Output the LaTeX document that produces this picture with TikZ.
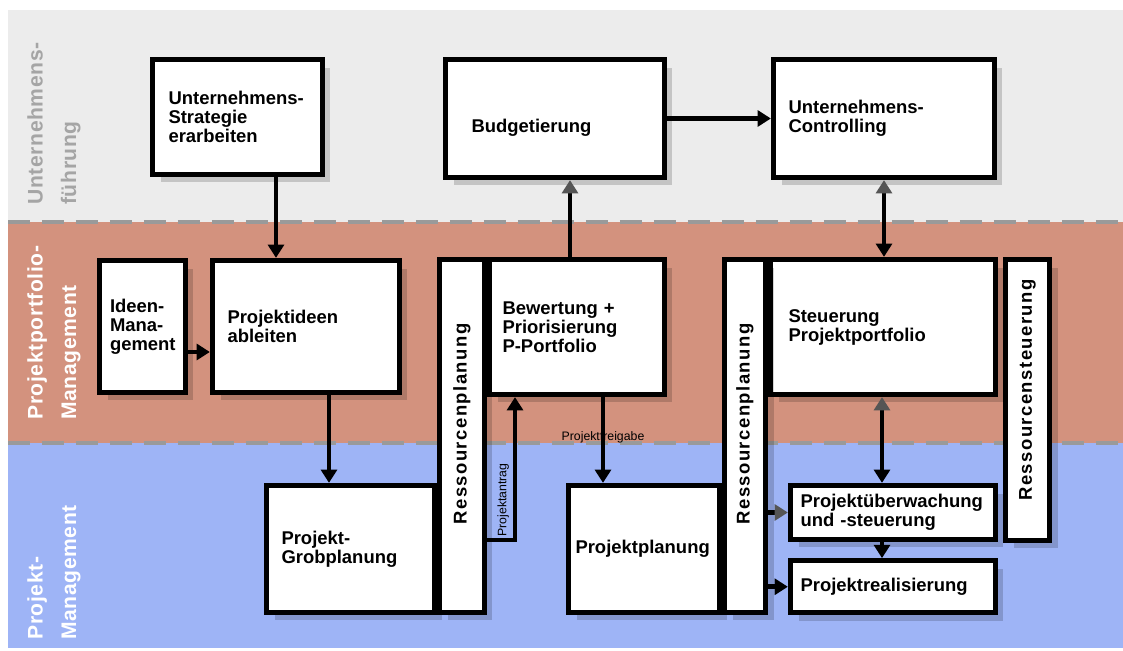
\documentclass[tikz,border=0pt]{standalone}
\usepackage{fontspec}
\setmainfont{Liberation Sans}
\usetikzlibrary{arrows.meta,shadows,positioning,calc}

\definecolor{bandgrey}{HTML}{ECECEC}
\definecolor{bandsalmon}{HTML}{D3927E}
\definecolor{bandblue}{HTML}{9EB4F6}
\definecolor{dashgrey}{HTML}{9A9A9A}
\definecolor{lanegrey}{HTML}{A5A5A5}
\definecolor{tipgrey}{HTML}{555555}

\begin{document}
\begin{tikzpicture}[
    x=0.02cm, y=-0.02cm,
    box/.style = {draw, fill=white, line width=3pt, align=left, inner sep=0pt,
                  font=\fontsize{10.5}{10.8}\selectfont\bfseries,
                  drop shadow={shadow xshift=0.16cm, shadow yshift=-0.16cm, fill=black, opacity=0.17}},
    vtext/.style = {rotate=90, inner sep=0pt, font=\fontsize{10.5}{10.5}\selectfont\bfseries\addfontfeatures{LetterSpace=8}},
    lane/.style = {rotate=90, anchor=north west, align=left, inner sep=0pt,
                   font=\fontsize{12}{19}\selectfont\bfseries\addfontfeatures{LetterSpace=3}, text=white},
    lanesep/.style = {dashgrey, line width=2.3pt, dash pattern=on 0.44cm off 0.24cm},
    smalltxt/.style = {font=\fontsize{7}{8}\selectfont, inner sep=2pt},
    arr/.style = {line width=2.8pt, -{Triangle[length=7.5pt,width=9pt]}},
    arrgrey/.style = {line width=2.8pt, -{Triangle[length=7.5pt,width=9pt,color=tipgrey]}},
    arrboth/.style = {line width=2.8pt, {Triangle[length=7.5pt,width=9pt,color=tipgrey]}-{Triangle[length=7.5pt,width=9pt]}}
    ]
    \useasboundingbox (0,0) rectangle (1123,651);

    % lanes
    \fill[bandgrey] (8,10) rectangle (1123,222);
    \fill[bandsalmon] (8,222) rectangle (1123,443);
    \fill[bandblue] (8,443) rectangle (1123,648);
    \draw[lanesep] (8,222) -- (1123,222);
    \draw[lanesep] (8,443) -- (1123,443);

    \node[lane, text=lanegrey] (lanefuehrung) at (27,205) {Unternehmens-\\führung};
    \node[lane] (laneportfolio) at (27,420) {Projektportfolio-\\Management};
    \node[lane] (laneprojekt) at (27,640) {Projekt-\\Management};

    % boxes
    \node[box, minimum width=3.4cm, minimum height=2.3cm, text width=2.76cm] (strategie) at (237.5,117) {Unternehmens-\\Strategie\\erarbeiten};
    \node[box, minimum width=4.38cm, minimum height=2.36cm, text width=3.34cm] (budget) at (555,118.5) {\raisebox{-0.18cm}[\height][\depth]{Budgetierung}};
    \node[box, minimum width=4.42cm, minimum height=2.36cm, text width=3.82cm] (controlling) at (884,118.5) {Unternehmens-\\Controlling};
    \node[box, minimum width=1.72cm, minimum height=2.64cm, text width=1.3cm] (ideen) at (142.5,326.5) {Ideen-\\Mana-\\gement};
    \node[box, minimum width=3.74cm, minimum height=2.64cm, text width=3.14cm] (ideenableiten) at (306,326.5) {Projektideen\\ableiten};
    \node[box, minimum width=3.5cm, minimum height=2.7cm, text width=2.98cm] (bewertung) at (577,327) {Bewertung +\\Priorisierung\\P-Portfolio};
    \node[box, minimum width=3.36cm, minimum height=2.54cm, text width=2.76cm] (grobplanung) at (350.5,549) {Projekt-\\Grobplanung};
    \node[box, minimum width=3.02cm, minimum height=2.54cm, text width=2.74cm] (planung) at (644,549) {Projektplanung};
    \node[box, minimum width=4.5cm, minimum height=2.7cm, text width=3.78cm] (steuerung) at (883,327) {Steuerung\\Projektportfolio};
    \node[box, minimum width=4.1cm, minimum height=1.08cm, text width=3.7cm] (ueberwachung) at (893,512.5) {Projektüberwachung\\und -steuerung};
    \node[box, minimum width=4.1cm, minimum height=1.04cm, text width=3.7cm, below=0.32cm of ueberwachung] (realisierung) {Projektrealisierung};
    \node[box, minimum width=0.88cm, minimum height=5.62cm] (rsteuerung) at (1027.5,400) {};
    \node[vtext] (rsteuerungtxt) at ([yshift=0.2cm]rsteuerung) {Ressourcensteuerung};

    \draw[arr] ([yshift=0.18cm]grobplanung.east) -| node[pos=0.64, rotate=90, anchor=south, smalltxt] (antrag) {Projektantrag} ([xshift=-1.24cm]bewertung.south);

    \node[box, minimum width=0.9cm, minimum height=7.06cm] (ressplanung1) at (462,436) {};
    \node[vtext] (ressplanung1txt) at ([yshift=0.24cm]ressplanung1) {Ressourcenplanung};
    \node[box, minimum width=0.82cm, minimum height=7.06cm] (ressplanung2) at (745,436) {};
    \node[vtext] (ressplanung2txt) at ([yshift=0.24cm]ressplanung2) {Ressourcenplanung};

    % connectors
    \draw[arr] ([xshift=0.77cm]strategie.south) -- ([xshift=0.77cm]strategie.south |- ideenableiten.north);
    \draw[arr] ([yshift=-0.51cm]ideen.east) -- ([yshift=-0.51cm]ideen.east -| ideenableiten.west);
    \draw[arr] ([xshift=0.46cm]ideenableiten.south) -- ([xshift=0.46cm]ideenableiten.south |- grobplanung.north);
    \draw[arr] (budget) -- (controlling);
    \draw[arrgrey] ([xshift=-0.14cm]bewertung.north) -- ([xshift=-0.14cm]bewertung.north |- budget.south);
    \draw[arrboth] (controlling.south) -- (controlling.south |- steuerung.north);
    \draw[arr] ([xshift=0.52cm]bewertung.south) -- node[pos=0.47, smalltxt] (freigabe) {Projektfreigabe} ([xshift=0.52cm]bewertung.south |- planung.north);
    \draw[arrboth] ([xshift=-0.02cm]steuerung.south) -- ([xshift=-0.02cm]steuerung.south |- ueberwachung.north);
    \draw[arr] ([xshift=-0.22cm]ueberwachung.south) -- ([xshift=-0.22cm]ueberwachung.south |- realisierung.north);
    \draw[arrgrey] (ressplanung2.east |- ueberwachung.west) -- (ueberwachung.west);
    \draw[arr] (ressplanung2.east |- realisierung.west) -- (realisierung.west);
\end{tikzpicture}
\end{document}
